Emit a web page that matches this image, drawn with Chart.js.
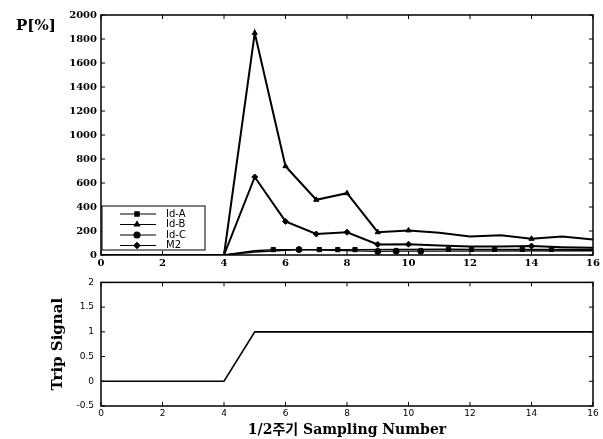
<!DOCTYPE html>
<html>
<head>
<meta charset="utf-8">
<script src="https://cdn.jsdelivr.net/npm/chart.js@4/dist/chart.umd.min.js"></script>
<style>
    body { margin: 0; background: #fff; }
    #wrap { position: relative; width: 603px; height: 439px; background: #fff; }
    #wrap canvas { position: absolute; left: 0; }
</style>
</head>
<body>
<div id="wrap">
    <canvas id="top-chart" style="top:0"></canvas>
    <canvas id="bottom-chart" style="top:270px"></canvas>
</div>
<script>
// Sampling numbers (1/2 cycle)
const sampleNumbers = [0, 1, 2, 3, 4, 5, 6, 7, 8, 9, 10, 11, 12, 13, 14, 15, 16];

// P[%] values
const idB = [0, 0, 0, 0, 0, 1850, 740, 460, 515, 190, 205, 185, 155, 165, 135, 155, 130];
const m2 = [0, 0, 0, 0, 0, 650, 280, 175, 190, 88, 90, 80, 70, 70, 75, 65, 60];
const idAX = [0, 4, 5, 5.6, 7.1, 7.7, 8.26, 11.3, 12.05, 12.8, 13.7, 14.65, 16];
const idAY = [0, 0, 35, 45, 45, 45, 45, 48, 47, 47, 47, 47, 47];
const idCX = [0, 4, 5, 6.44, 9, 9.6, 10.4, 16];
const idCY = [0, 0, 25, 45, 30, 32, 32, 35];

// marker shown (1) or not (0) at each point
const idBMarks = [0, 0, 0, 0, 0, 1, 1, 1, 1, 1, 1, 0, 0, 0, 1, 0, 0];
const m2Marks = [0, 0, 0, 0, 0, 1, 1, 1, 1, 1, 1, 0, 0, 0, 1, 0, 0];
const idAMarks = [0, 0, 0, 1, 1, 1, 1, 1, 1, 1, 1, 1, 0];
const idCMarks = [0, 0, 0, 1, 1, 1, 1, 0];

// Trip signal
const tripSignal = [0, 0, 0, 0, 0, 1, 1, 1, 1, 1, 1, 1, 1, 1, 1, 1, 1];

const xTicks = [0, 2, 4, 6, 8, 10, 12, 14, 16];

function toPoints(xs, ys) {
    return xs.map((x, i) => ({ x: x, y: ys[i] }));
}

function markRadius(marks) {
    return marks.map(m => m ? 3 : 0);
}

// frame round the plot area and small inward ticks on all sides
const framePlugin = {
    id: 'frame',
    afterDraw(chart) {
        const ctx = chart.ctx;
        const a = chart.chartArea;
        ctx.save();
        ctx.strokeStyle = '#000';
        ctx.lineWidth = 1.5;
        ctx.strokeRect(a.left, a.top, a.right - a.left, a.bottom - a.top);
        ctx.lineWidth = 1;
        const xs = chart.scales.x, ys = chart.scales.y;
        ctx.beginPath();
        xs.ticks.forEach(t => {
            const px = xs.getPixelForValue(t.value);
            ctx.moveTo(px, a.bottom); ctx.lineTo(px, a.bottom - 4);
            ctx.moveTo(px, a.top); ctx.lineTo(px, a.top + 4);
        });
        ys.ticks.forEach(t => {
            const py = ys.getPixelForValue(t.value);
            ctx.moveTo(a.left, py); ctx.lineTo(a.left + 4, py);
            ctx.moveTo(a.right, py); ctx.lineTo(a.right - 4, py);
        });
        ctx.stroke();
        ctx.restore();
    }
};

// legend box in lower left corner plus the P[%] label
const legendBoxPlugin = {
    id: 'legendBox',
    afterDraw(chart) {
        const ctx = chart.ctx;
        const a = chart.chartArea;
        const x0 = a.left + 1, y0 = a.bottom - 49, w = 103, h = 44;
        ctx.save();
        ctx.fillStyle = '#fff';
        ctx.fillRect(x0, y0, w, h);
        ctx.strokeStyle = '#000';
        ctx.lineWidth = 1;
        ctx.strokeRect(x0, y0, w, h);
        ctx.font = '10px "DejaVu Sans"';
        ctx.textBaseline = 'middle';
        chart.data.datasets.forEach((ds, i) => {
            const y = y0 + 8 + i * 10.5;
            ctx.strokeStyle = '#000';
            ctx.lineWidth = 1.2;
            ctx.beginPath();
            ctx.moveTo(x0 + 18, y);
            ctx.lineTo(x0 + 54, y);
            ctx.stroke();
            ctx.fillStyle = '#000';
            Chart.helpers.drawPoint(ctx, {
                pointStyle: ds.pointStyle, radius: 3, borderWidth: 1, rotation: 0
            }, x0 + 35, y);
            ctx.fillStyle = '#000';
            ctx.fillText(ds.label, x0 + 64, y);
        });
        ctx.font = 'bold 15px "DejaVu Serif"';
        ctx.textBaseline = 'middle';
        ctx.fillText('P[%]', 16, 26);
        ctx.restore();
    }
};

function lineSet(label, data, radii, style, width) {
    return {
        label: label,
        data: data,
        borderColor: '#000',
        backgroundColor: '#000',
        borderWidth: width,
        pointStyle: style,
        pointRadius: radii,
        pointBorderWidth: 1,
        tension: 0
    };
}

const noGrid = { display: false, drawTicks: false };

const topCtx = document.getElementById('top-chart');
topCtx.width = 603; topCtx.height = 270;
new Chart(topCtx, {
    type: 'line',
    data: {
        datasets: [
            lineSet('Id-A', toPoints(idAX, idAY), markRadius(idAMarks), 'rect', 1.4),
            lineSet('Id-B', toPoints(sampleNumbers, idB), markRadius(idBMarks), 'triangle', 2),
            lineSet('Id-C', toPoints(idCX, idCY), markRadius(idCMarks), 'circle', 1.4),
            lineSet('M2', toPoints(sampleNumbers, m2), markRadius(m2Marks), 'rectRot', 2)
        ]
    },
    options: {
        responsive: false,
        animation: false,
        layout: { padding: { top: 15, right: 10, left: 0, bottom: 0 } },
        plugins: { legend: { display: false }, tooltip: { enabled: false } },
        scales: {
            x: {
                type: 'linear', min: 0, max: 16,
                afterBuildTicks: s => { s.ticks = xTicks.map(v => ({ value: v })); },
                afterFit: s => { s.height = 15; },
                grid: noGrid, border: { display: false },
                ticks: { color: '#000', padding: 2, font: { family: '"DejaVu Serif"', size: 10, weight: 'bold' } }
            },
            y: {
                min: 0, max: 2000,
                afterFit: s => { s.width = 101; },
                grid: noGrid, border: { display: false },
                ticks: {
                    stepSize: 200, color: '#000', padding: 4,
                    font: { family: '"DejaVu Serif"', size: 10, weight: 'bold' },
                    callback: v => String(v)
                }
            }
        }
    },
    plugins: [framePlugin, legendBoxPlugin]
});

const bottomCtx = document.getElementById('bottom-chart');
bottomCtx.width = 603; bottomCtx.height = 169;
new Chart(bottomCtx, {
    type: 'line',
    data: {
        datasets: [{
            label: 'Trip Signal',
            data: toPoints(sampleNumbers, tripSignal),
            borderColor: '#000',
            borderWidth: 1.6,
            pointRadius: 0,
            tension: 0
        }]
    },
    options: {
        responsive: false,
        animation: false,
        layout: { padding: { top: 10, right: 10, left: 0, bottom: 0 } },
        plugins: { legend: { display: false }, tooltip: { enabled: false } },
        scales: {
            x: {
                type: 'linear', min: 0, max: 16,
                afterBuildTicks: s => { s.ticks = xTicks.map(v => ({ value: v })); },
                afterFit: s => { s.height = 33; },
                grid: noGrid, border: { display: false },
                ticks: { color: '#000', padding: 2, font: { family: '"DejaVu Sans"', size: 9 } },
                title: {
                    display: true,
                    text: '1/2주기 Sampling Number',
                    color: '#000',
                    padding: { top: 0, bottom: 0 },
                    font: { family: '"DejaVu Serif", "Noto Sans CJK KR"', size: 14, weight: 'bold' }
                }
            },
            y: {
                min: -0.5, max: 2,
                afterFit: s => { s.width = 101; },
                grid: noGrid, border: { display: false },
                ticks: {
                    stepSize: 0.5, color: '#000', padding: 7,
                    font: { family: '"DejaVu Sans"', size: 9 },
                    callback: v => String(v)
                },
                title: {
                    display: true,
                    text: 'Trip Signal',
                    color: '#000',
                    padding: { top: 49, bottom: 0 },
                    font: { family: '"DejaVu Serif"', size: 15, weight: 'bold' }
                }
            }
        }
    },
    plugins: [framePlugin]
});
</script>
</body>
</html>
